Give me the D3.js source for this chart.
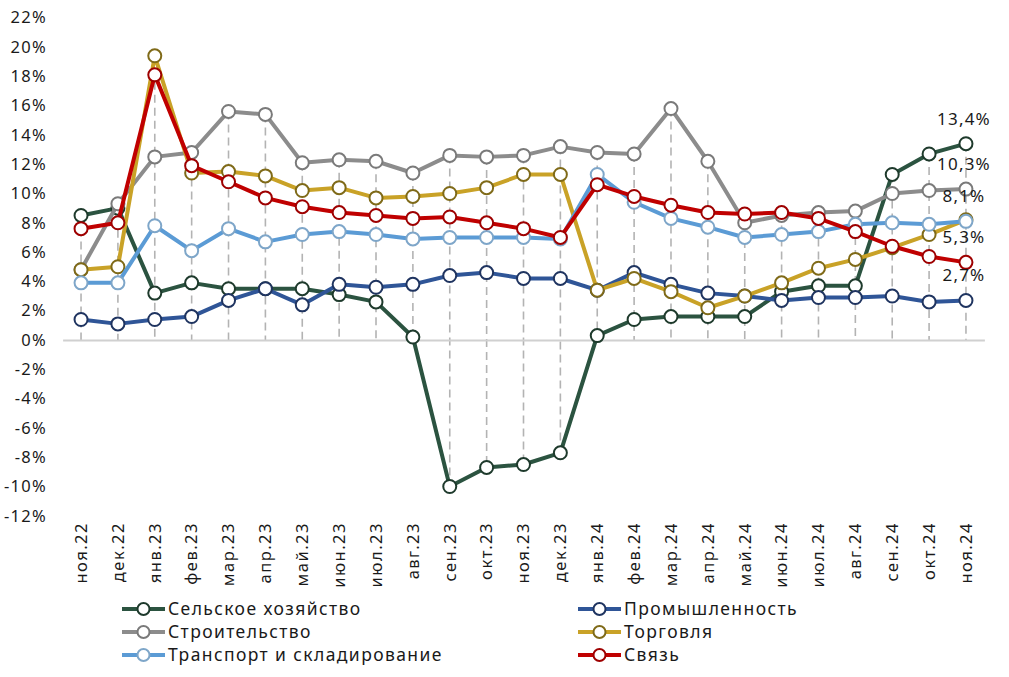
<!DOCTYPE html>
<html>
<head>
<meta charset="utf-8">
<script src="https://cdn.jsdelivr.net/npm/d3@7"></script>
<style>
  body { margin: 0; background: #fff; }
  svg text { font-family: "Noto Sans", sans-serif; fill: #1a1a1a; }
</style>
</head>
<body>
<svg id="Canvas" width="1009" height="677"></svg>
<script>
// months
var months = ["ноя.22","дек.22","янв.23","фев.23","мар.23","апр.23","май.23","июн.23","июл.23","авг.23",
  "сен.23","окт.23","ноя.23","дек.23","янв.24","фев.24","мар.24","апр.24","май.24","июн.24",
  "июл.24","авг.24","сен.24","окт.24","ноя.24"];

var yTicks = [-12,-10,-8,-6,-4,-2,0,2,4,6,8,10,12,14,16,18,20,22];

// series values, %
var agri = [8.5,9.0,3.2,3.9,3.5,3.5,3.5,3.1,2.6,0.2,-10.0,-8.7,-8.5,-7.7,0.3,1.4,1.6,1.6,1.6,3.3,3.7,3.7,11.3,12.7,13.4];
var industry = [1.4,1.1,1.4,1.6,2.7,3.5,2.4,3.8,3.6,3.8,4.4,4.6,4.2,4.2,3.4,4.6,3.8,3.2,3.0,2.7,2.9,2.9,3.0,2.6,2.7];
var construction = [4.8,9.3,12.5,12.8,15.6,15.4,12.1,12.3,12.2,11.4,12.6,12.5,12.6,13.2,12.8,12.7,15.8,12.2,8.0,8.5,8.7,8.8,10.0,10.2,10.3];
var trade = [4.8,5.0,19.4,11.4,11.5,11.2,10.2,10.4,9.7,9.8,10.0,10.4,11.3,11.3,3.4,4.2,3.3,2.2,3.0,3.9,4.9,5.5,6.3,7.2,8.2];
var transport = [3.9,3.9,7.8,6.1,7.6,6.7,7.2,7.4,7.2,6.9,7.0,7.0,7.0,6.9,11.3,9.4,8.3,7.7,7.0,7.2,7.4,7.9,8.0,7.9,8.1];
var telecom = [7.6,8.0,18.1,11.9,10.8,9.7,9.1,8.7,8.5,8.3,8.4,8.0,7.6,7.0,10.6,9.8,9.2,8.7,8.6,8.7,8.3,7.4,6.4,5.7,5.3];

var seriesNames = ["Сельское хозяйство","Промышленность","Строительство","Торговля","Транспорт и складирование","Связь"];
var seriesValues = [agri, industry, construction, trade, transport, telecom];
var lineColors = ["#2b5340","#2f5597","#8c8c8c","#c9a227","#5b9bd5","#c00000"];
var markerColors = ["#1e3a2c","#1f3460","#7a7a7a","#7f6a18","#7ea6c9","#9e0000"];
// end labels: series index -> text
var endLabels = [[0,"13,4%"],[2,"10,3%"],[4,"8,1%"],[5,"5,3%"],[1,"2,7%"]];

var svg = d3.select("#Canvas");

var x = d3.scalePoint().domain(months).range([62.6, 984.4]).padding(0.5);
var y = d3.scaleLinear().domain([-12, 22]).range([515.8, 17.7]);

// y labels
svg.append("g").selectAll("text").data(yTicks).enter().append("text")
  .attr("x", 47).attr("y", function(d){ return y(d); })
  .attr("dy", "0.35em").attr("text-anchor", "end")
  .style("font-size", "16.5px").style("letter-spacing", "1.3px")
  .text(function(d){ return d + "%"; });

// drop lines
var drops = months.map(function(m, i){
  var vals = seriesValues.map(function(s){ return s[i]; });
  return { m: m, hi: Math.max(0, d3.max(vals)), lo: Math.min(0, d3.min(vals)) };
});
svg.append("g").selectAll("line").data(drops).enter().append("line")
  .attr("x1", function(d){ return x(d.m); }).attr("x2", function(d){ return x(d.m); })
  .attr("y1", function(d){ return y(d.hi); }).attr("y2", function(d){ return y(d.lo); })
  .attr("stroke", "#b3b3b3").attr("stroke-width", 1.6).attr("stroke-dasharray", "8,5");

// x axis line at zero
var xAxis = d3.axisBottom(x).tickSize(0).tickFormat("");
svg.append("g").attr("transform", "translate(0," + y(0) + ")").call(xAxis)
  .select(".domain").attr("stroke", "#d0d0d0").attr("stroke-width", 2);

// x labels rotated
svg.append("g").selectAll("text").data(months).enter().append("text")
  .attr("transform", function(d){ return "translate(" + x(d) + ",522) rotate(-90)"; })
  .attr("dy", "0.35em").attr("text-anchor", "end")
  .style("font-size", "16.5px").style("letter-spacing", "1.5px")
  .text(function(d){ return d; });

// lines + markers
var line = d3.line().x(function(d, i){ return x(months[i]); }).y(function(d){ return y(d); });
seriesValues.forEach(function(vals, s){
  var g = svg.append("g");
  g.append("path").attr("d", line(vals)).attr("fill", "none")
    .attr("stroke", lineColors[s]).attr("stroke-width", 4).attr("stroke-linejoin", "round");
  g.selectAll("circle").data(vals).enter().append("circle")
    .attr("cx", function(d, i){ return x(months[i]); })
    .attr("cy", function(d){ return y(d); })
    .attr("r", 6.5).attr("fill", "#fff")
    .attr("stroke", markerColors[s]).attr("stroke-width", 2);
});

// end labels
var last = months.length - 1;
svg.append("g").selectAll("text").data(endLabels).enter().append("text")
  .attr("x", x(months[last]) - 2)
  .attr("y", function(d){ return y(seriesValues[d[0]][last]) - 25; })
  .attr("dy", "0.35em").attr("text-anchor", "middle")
  .style("font-size", "17px").style("letter-spacing", "1.2px")
  .text(function(d){ return d[1]; });

// legend
var legendPos = [[122,609],[578,609],[122,632],[578,632],[122,655],[578,655]];
var leg = svg.append("g").selectAll("g").data(seriesNames).enter().append("g")
  .attr("transform", function(d, i){ return "translate(" + legendPos[i][0] + "," + legendPos[i][1] + ")"; });
leg.append("line").attr("x1", 0).attr("x2", 43).attr("y1", 0).attr("y2", 0)
  .attr("stroke", function(d, i){ return lineColors[i]; }).attr("stroke-width", 4);
leg.append("circle").attr("cx", 21.5).attr("cy", 0).attr("r", 6).attr("fill", "#fff")
  .attr("stroke", function(d, i){ return markerColors[i]; }).attr("stroke-width", 2);
leg.append("text").attr("x", 46).attr("y", 0).attr("dy", "0.35em")
  .style("font-size", "17.5px").style("letter-spacing", "1.4px")
  .text(function(d){ return d; });
</script>
</body>
</html>
